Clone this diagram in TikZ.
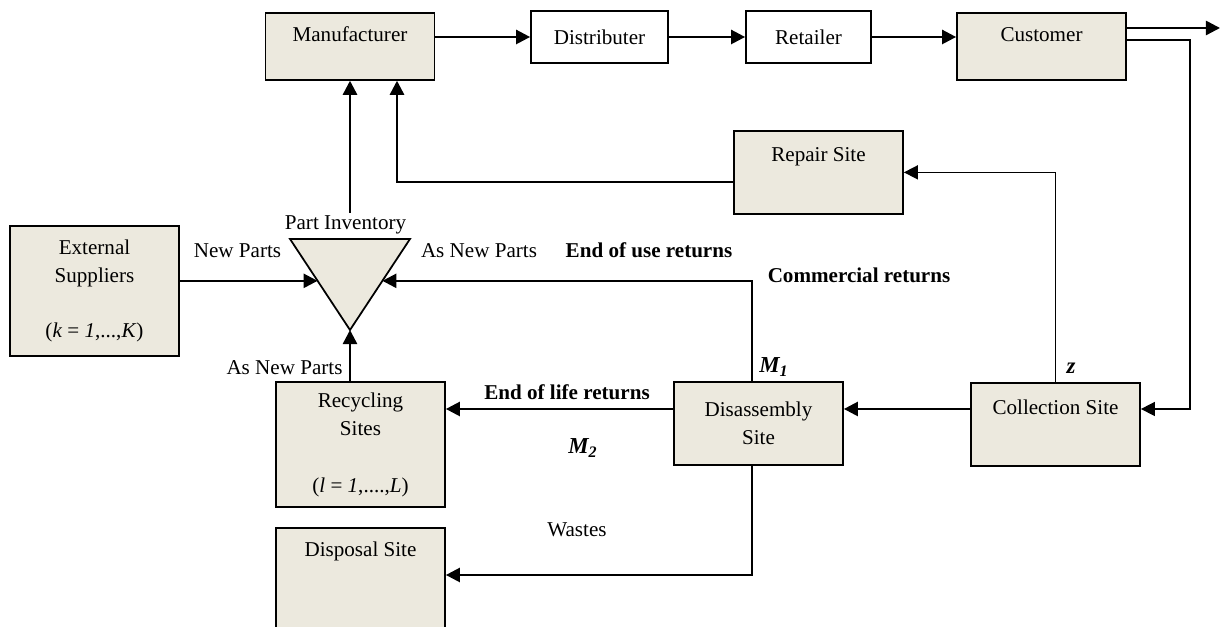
\documentclass[tikz,border=0pt]{standalone}
\usepackage{fontspec}
\setmainfont{Liberation Serif}
\usetikzlibrary{arrows.meta,positioning,calc}
\definecolor{sitefill}{RGB}{236,233,222}
\tikzset{
  site/.style={draw=black, line width=1pt, fill=sitefill, inner sep=0pt,
               minimum width=3.38cm, font=\fontsize{12}{15.9}\selectfont},
  multisite/.style={site, align=center},
  topsite/.style 2 args={site, text height=#1, text depth=#2, anchor=north},
  shopbox/.style={draw=black, line width=1pt, fill=white, inner sep=0pt,
                  minimum height=1.04cm, font=\fontsize{12}{15.9}\selectfont},
  flowarr/.style={-{Triangle[length=8pt, width=8pt]}, line width=1.4pt},
  retarr/.style={-{Triangle[length=8pt, width=8pt]}, line width=0.9pt},
  lab/.style={font=\fontsize{12}{14}\selectfont, inner sep=0pt},
  blab/.style={lab, font=\fontsize{12}{14}\selectfont\bfseries},
  mlab/.style={lab, font=\fontsize{13}{14}\selectfont\bfseries\itshape},
}

\begin{document}
\begin{tikzpicture}
  \useasboundingbox (0,0) rectangle (24.6,12.54);

  % forward chain
  \node[topsite={0.58cm}{0.76cm}] (manu) at (7.0,12.30) {Manufacturer};
  \node[shopbox, minimum width=2.74cm] (dist) at (11.99,11.80) {Distributer};
  \node[shopbox, minimum width=2.5cm] (ret) at (16.17,11.80) {Retailer};
  \node[topsite={0.58cm}{0.76cm}] (cust) at (20.83,12.30) {Customer};

  % reverse chain
  \node[topsite={0.62cm}{1.04cm}] (rep) at (16.37,9.94) {Repair Site};
  \node[multisite, minimum height=2.6cm] (ext) at (1.89,6.72)
       {External\\Suppliers\\[0.54cm](\textit{k} = \textit{1},...,\textit{K})};
  \node[multisite, minimum height=2.5cm] (recyc) at (7.21,3.65)
       {Recycling\\Sites\\[0.58cm](\textit{l} = \textit{1},....,\textit{L})};
  \node[multisite, minimum height=1.66cm] (disas) at (15.17,4.07) {Disassembly\\Site};
  \node[topsite={0.64cm}{1.02cm}] (coll) at (21.11,4.90) {Collection Site};
  \node[topsite={0.58cm}{1.68cm}] (disp) at (7.21,2.0) {Disposal Site};

  % part inventory
  \coordinate (invl) at (5.8,7.76);
  \coordinate (invr) at (8.2,7.76);
  \coordinate (inva) at (7.0,5.94);
  \draw[line width=1pt, fill=sitefill] (invl) -- (invr) -- (inva) -- cycle;
  \coordinate (invL) at ($(invl)!0.46!(inva)$);
  \coordinate (invR) at ($(invr)!0.46!(inva)$);
  \node[lab] (invlab) at (6.91,8.04) {Part Inventory};

  % turning points
  \coordinate (invtop) at (7.0,8.28);
  \coordinate (mret) at (7.94,8.90);
  \coordinate (cout) at (24.4,11.98);
  \coordinate (cturn) at (23.8,11.74);
  \coordinate (rowr) at (23.8,4.36);
  \coordinate (dx) at (15.04,0);
  \coordinate (wturn) at (15.04,1.04);

  \draw[flowarr] (manu.east |- dist.west) -- (dist.west);
  \draw[flowarr] (dist.east) -- (ret.west);
  \draw[flowarr] (ret.east) -- (cust.west |- ret.east);
  \draw[flowarr] (cust.east |- cout) -- (cout);
  \draw[retarr] (cust.east |- cturn) -- (cturn) -- (rowr) -- (coll.east |- rowr);
  \draw[flowarr] (coll.west |- rowr) -- (disas.east |- rowr);
  \draw[flowarr] (disas.west |- rowr) -- (recyc.east |- rowr);
  \draw[retarr] (coll.north) |- (rep.east);
  \draw[flowarr] (rep.west |- mret) -- (mret) -- (mret |- manu.south);
  \draw[flowarr] (invtop) -- (manu.south);
  \draw[flowarr] (ext.east |- invL) -- (invL);
  \draw[flowarr] (disas.north -| dx) |- (invR);
  \draw[flowarr] (recyc.north -| inva) -- (inva);
  \draw[flowarr] (disas.south -| dx) -- (wturn) -- (disp.east |- wturn);

  % flow labels
  \node[lab] (newp) at (4.75,7.52) {New Parts};
  \node[lab] (asnew1) at (9.58,7.52) {As New Parts};
  \node[lab] (asnew2) at (5.69,5.18) {As New Parts};
  \node[blab] (eou) at (12.98,7.54) {End of use returns};
  \node[blab] (comm) at (17.18,7.04) {Commercial returns};
  \node[blab] (eol) at (11.34,4.70) {End of life returns};
  \node[mlab] (m1) at (15.48,5.20) {M\textsubscript{1}};
  \node[mlab] (m2) at (11.66,3.58) {M\textsubscript{2}};
  \node[mlab] (zlab) at (21.42,5.18) {z};
  \node[lab] (waste) at (11.54,1.94) {Wastes};
\end{tikzpicture}
\end{document}
